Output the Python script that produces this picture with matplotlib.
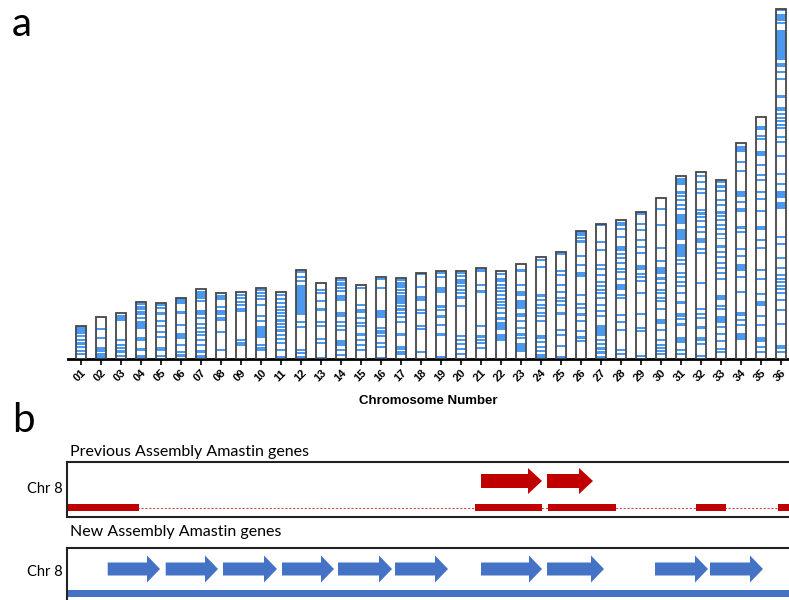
import matplotlib
matplotlib.use("Agg")
import matplotlib.pyplot as plt
from matplotlib.patches import FancyArrow, Rectangle

# ---------------- data: panel a ----------------
chrom_labels = [f"{i:02d}" for i in range(1, 37)]
chrom_sizes_mb = [0.258, 0.328, 0.354, 0.438, 0.435, 0.474, 0.543, 0.508, 0.518, 0.551,
                  0.515, 0.689, 0.589, 0.628, 0.574, 0.631, 0.628, 0.664, 0.677, 0.679,
                  0.702, 0.682, 0.733, 0.789, 0.825, 0.985, 1.041, 1.069, 1.133, 1.243,
                  1.410, 1.438, 1.377, 1.662, 1.866, 2.695]

# gene positions as fraction of chromosome length from the top
band_lines = [
    [0.05, 0.1, 0.16, 0.22, 0.3, 0.43, 0.53, 0.62, 0.74, 0.84],
    [0.29, 0.87, 0.92, 0.97],
    [0.06, 0.1, 0.14, 0.59, 0.69, 0.76, 0.83, 0.93],
    [0.035, 0.076, 0.117, 0.164, 0.205, 0.28, 0.63, 0.66, 0.94, 0.98],
    [0.04, 0.1, 0.19, 0.32, 0.41, 0.51, 0.61, 0.94],
    [0.24, 0.44, 0.59, 0.62, 0.66, 0.77, 0.88],
    [0.18, 0.42, 0.5, 0.56, 0.61, 0.66, 0.73, 0.8, 0.89, 0.96],
    [0.21, 0.38, 0.41, 0.58],
    [0.04, 0.09, 0.15, 0.2, 0.25, 0.28, 0.72, 0.76, 0.79],
    [0.03, 0.08, 0.12, 0.16, 0.24, 0.4, 0.46, 0.8, 0.84, 0.87],
    [0.04, 0.1, 0.16, 0.22, 0.26, 0.31, 0.36, 0.42, 0.47, 0.52, 0.57, 0.64, 0.69, 0.76, 0.86, 0.97],
    [0.08, 0.13, 0.58, 0.64, 0.9, 0.93, 0.98],
    [0.1, 0.14, 0.35, 0.51, 0.57, 0.74, 0.79, 0.98],
    [0.03, 0.06, 0.09, 0.13, 0.16, 0.54, 0.59, 0.64, 0.89, 0.95],
    [0.05, 0.27, 0.45, 0.51, 0.55, 0.74, 0.81, 0.88],
    [0.02, 0.13, 0.62, 0.65, 0.68, 0.72, 0.8, 0.85, 0.99],
    [0.03, 0.06, 0.09, 0.12, 0.15, 0.19, 0.22, 0.25, 0.28, 0.31, 0.35, 0.39, 0.43, 0.48, 0.54],
    [0.01, 0.16, 0.43, 0.46, 0.61, 0.65, 0.92],
    [0.02, 0.06, 0.4, 0.44, 0.61, 0.98],
    [0.02, 0.06, 0.1, 0.13, 0.17, 0.22, 0.25, 0.3, 0.4, 0.74, 0.78, 0.83, 0.88, 0.94],
    [0.19, 0.64, 0.75, 0.79, 0.82, 0.88],
    [0.04, 0.09, 0.12, 0.16, 0.2, 0.23, 0.27, 0.32, 0.35, 0.39, 0.42, 0.48, 0.54],
    [0.22, 0.29, 0.32, 0.52, 0.55, 0.6, 0.67, 0.74, 0.78],
    [0.03, 0.1, 0.42, 0.47, 0.5, 0.55, 0.58, 0.63, 0.83, 0.88, 0.92, 0.96, 0.98],
    [0.18, 0.21, 0.31, 0.37, 0.43, 0.46, 0.49, 0.73, 0.77, 0.88, 0.98],
    [0.01, 0.03, 0.055, 0.08, 0.19, 0.26, 0.33, 0.35, 0.5, 0.57, 0.6, 0.65, 0.7, 0.78, 0.83, 0.86],
    [0.01, 0.13, 0.19, 0.3, 0.33, 0.38, 0.43, 0.46, 0.49, 0.51, 0.55, 0.6, 0.64, 0.68, 0.86, 0.89, 0.92, 0.95, 0.98],
    [0.065, 0.12, 0.19, 0.21, 0.24, 0.27, 0.31, 0.35, 0.37, 0.42, 0.54, 0.56, 0.68, 0.73, 0.79, 0.93, 0.96],
    [0.01, 0.08, 0.12, 0.19, 0.24, 0.28, 0.37, 0.39, 0.42, 0.44, 0.47, 0.69, 0.79, 0.81, 0.98],
    [0.07, 0.17, 0.31, 0.39, 0.5, 0.53, 0.57, 0.59, 0.62, 0.64, 0.69, 0.82, 0.88, 0.91, 0.93, 0.95, 0.97],
    [0.09, 0.11, 0.13, 0.16, 0.18, 0.46, 0.48, 0.53, 0.55, 0.58, 0.6, 0.64, 0.69, 0.78, 0.81, 0.95, 0.97],
    [0.02, 0.05, 0.09, 0.11, 0.2, 0.22, 0.24, 0.26, 0.29, 0.32, 0.41, 0.43, 0.59, 0.73, 0.76, 0.78, 0.83, 0.92, 0.98],
    [0.01, 0.03, 0.04, 0.06, 0.11, 0.14, 0.18, 0.2, 0.22, 0.25, 0.27, 0.3, 0.37, 0.4, 0.43, 0.46, 0.49,
     0.52, 0.55, 0.7, 0.72, 0.82, 0.86, 0.9, 0.94, 0.96],
    [0.085, 0.13, 0.27, 0.39, 0.41, 0.49, 0.52, 0.62, 0.69, 0.82, 0.84],
    [0.08, 0.09, 0.2, 0.24, 0.26, 0.31, 0.34, 0.39, 0.51, 0.54, 0.63, 0.67, 0.73, 0.82, 0.86, 0.95, 0.97],
    [0.003, 0.017, 0.024, 0.03, 0.04, 0.18, 0.2, 0.25, 0.3, 0.31, 0.32, 0.33, 0.34, 0.365, 0.38, 0.42,
     0.47, 0.5, 0.65, 0.67, 0.71, 0.74, 0.76, 0.77, 0.78, 0.79, 0.8, 0.81, 0.83, 0.86, 0.9, 0.98],
]
band_blocks = [
    [(0.02, 0.06)],
    [(0.47, 0.52), (0.72, 0.83)],
    [],
    [(0.32, 0.46), (0.80, 0.86)],
    [(0.78, 0.86)],
    [(0.01, 0.11), (0.91, 0.97)],
    [(0.03, 0.15), (0.3, 0.37)],
    [(0.02, 0.1), (0.25, 0.33), (0.85, 0.88)],
    [],
    [(0.53, 0.7)],
    [],
    [(0.01, 0.04), (0.17, 0.5)],
    [(0.22, 0.25)],
    [(0.21, 0.29), (0.42, 0.48), (0.76, 0.84)],
    [(0.32, 0.38), (0.65, 0.69)],
    [(0.4, 0.5)],
    [(0.68, 0.72), (0.84, 0.88), (0.9, 0.95)],
    [(0.27, 0.33)],
    [(0.18, 0.25), (0.5, 0.53), (0.7, 0.74)],
    [],
    [(0.01, 0.04), (0.24, 0.27)],
    [(0.58, 0.67), (0.71, 0.79)],
    [(0.05, 0.08), (0.38, 0.47), (0.83, 0.92)],
    [(0.36, 0.39), (0.76, 0.8)],
    [(0.01, 0.03), (0.56, 0.59)],
    [],
    [(0.75, 0.83)],
    [(0.01, 0.04), (0.46, 0.5)],
    [(0.54, 0.56)],
    [(0.43, 0.47), (0.75, 0.78)],
    [(0.01, 0.05), (0.21, 0.26), (0.29, 0.35), (0.37, 0.44), (0.75, 0.77), (0.88, 0.91)],
    [(0.35, 0.38), (0.88, 0.9)],
    [(0.32, 0.33), (0.64, 0.67), (0.76, 0.8)],
    [(0.015, 0.04), (0.22, 0.25), (0.3, 0.32), (0.56, 0.59), (0.78, 0.8), (0.88, 0.91)],
    [(0.04, 0.055), (0.14, 0.16), (0.45, 0.465), (0.76, 0.78), (0.91, 0.93)],
    [(0.06, 0.146), (0.155, 0.165), (0.28, 0.29), (0.52, 0.54), (0.55, 0.57), (0.96, 0.97)],
]

# ---------------- data: panel b (chr 8 region, kb) ----------------
prev_arrows = [(41.4, 47.5), (48.0, 52.6)]
prev_blocks = [(0.0, 7.2), (40.8, 47.5), (48.1, 54.9), (62.9, 65.9), (71.1, 73.5)]
new_arrows = [(4.07, 9.3), (9.87, 15.1), (15.6, 21.0), (21.5, 26.7), (27.1, 32.5),
              (32.8, 38.1), (41.4, 47.5), (48.0, 53.7), (58.8, 64.1), (64.3, 69.6)]
track_label = "Chr 8"
prev_title = "Previous Assembly Amastin genes"
new_title = "New Assembly Amastin genes"

BAND = "#4a98f0"
RED = "#c00000"
BLUE = "#4472c4"

W, H = 789, 600
fig = plt.figure(figsize=(W / 100, H / 100), dpi=100)


def px_axes(x0, y0, x1, y1):
    return fig.add_axes([x0 / W, 1 - y1 / H, (x1 - x0) / W, (y1 - y0) / H])


# ---------------- panel a ----------------
ax = px_axes(68, 4.4, 789, 359.3)
ax.set_xlim(0.35, 36.4)
ax.set_ylim(0, 2.73)
bw = 0.5
thin = 0.016
xs = list(range(1, 37))
for x, L, lines, blocks in zip(xs, chrom_sizes_mb, band_lines, band_blocks):
    ax.bar(x, L, width=bw, color="white", edgecolor="none", zorder=1)
    for f in lines:
        y = L * (1 - f)
        ax.bar(x, thin, bottom=max(y - thin / 2, 0), width=bw, color=BAND,
               edgecolor="none", linewidth=0, zorder=2)
    for f1, f2 in blocks:
        ax.bar(x, L * (f2 - f1), bottom=L * (1 - f2), width=bw, color=BAND,
               edgecolor="none", linewidth=0, zorder=2)
    ax.bar(x, L, width=bw, facecolor="none", edgecolor="#454545", linewidth=1.3, zorder=3)

for s in ["top", "right", "left"]:
    ax.spines[s].set_visible(False)
ax.spines["bottom"].set_linewidth(2.0)
ax.spines["bottom"].set_color("black")
ax.set_yticks([])
ax.set_xticks(xs)
ax.set_xticklabels(chrom_labels, rotation=45, ha="right", va="top", rotation_mode="anchor",
                   fontsize=8, fontweight="bold", family="Liberation Sans")
ax.tick_params(axis="x", length=4, width=1.2, pad=2)
ax.set_xlabel("Chromosome Number", fontsize=9.5, fontweight="bold", family="Liberation Sans", labelpad=8)

fig.text(12 / W, 1 - 36 / H, "a", fontsize=29, family="Lato")
fig.text(12 / W, 1 - 432 / H, "b", fontsize=29, family="Lato")

# ---------------- panel b ----------------
TF = "Lato"
XMAX = (797 - 67) / 10

# previous assembly track
a1 = px_axes(67, 462, 797, 517)
a1.set_xlim(0, XMAX)
a1.set_ylim(0, 55)
a1.set_xticks([]); a1.set_yticks([])
for s in a1.spines.values():
    s.set_linewidth(1.5); s.set_color("#222222")
a1.plot([0, XMAX], [9.3, 9.3], color=RED, lw=0.8, ls=(0, (2, 1.5)), alpha=0.7, zorder=1)
for s0, s1 in prev_blocks:
    a1.add_patch(Rectangle((s0, 6.0), s1 - s0, 6.8, color=RED, lw=0, zorder=2))
for s0, s1 in prev_arrows:
    a1.add_patch(FancyArrow(s0, 36, s1 - s0, 0, width=14, head_width=26, head_length=1.4,
                            length_includes_head=True, color=RED, lw=0, zorder=3))
fig.text(70 / W, 1 - 452 / H, prev_title, fontsize=11.5, family=TF, va="center")
fig.text(27 / W, 1 - 489 / H, track_label, fontsize=10.5, family=TF, va="center")

# new assembly track
a2 = px_axes(67, 548, 797, 606)
a2.set_xlim(0, XMAX)
a2.set_ylim(0, 58)
a2.set_xticks([]); a2.set_yticks([])
for s in a2.spines.values():
    s.set_linewidth(1.5); s.set_color("#222222")
a2.add_patch(Rectangle((0, 9.0), XMAX, 7.0, color=BLUE, lw=0, zorder=2))
for s0, s1 in new_arrows:
    a2.add_patch(FancyArrow(s0, 37, s1 - s0, 0, width=13, head_width=27, head_length=1.3,
                            length_includes_head=True, color=BLUE, lw=0, zorder=3))
fig.text(70 / W, 1 - 532 / H, new_title, fontsize=11.5, family=TF, va="center")
fig.text(27 / W, 1 - 572 / H, track_label, fontsize=10.5, family=TF, va="center")

fig.savefig("out.png", dpi=100)
